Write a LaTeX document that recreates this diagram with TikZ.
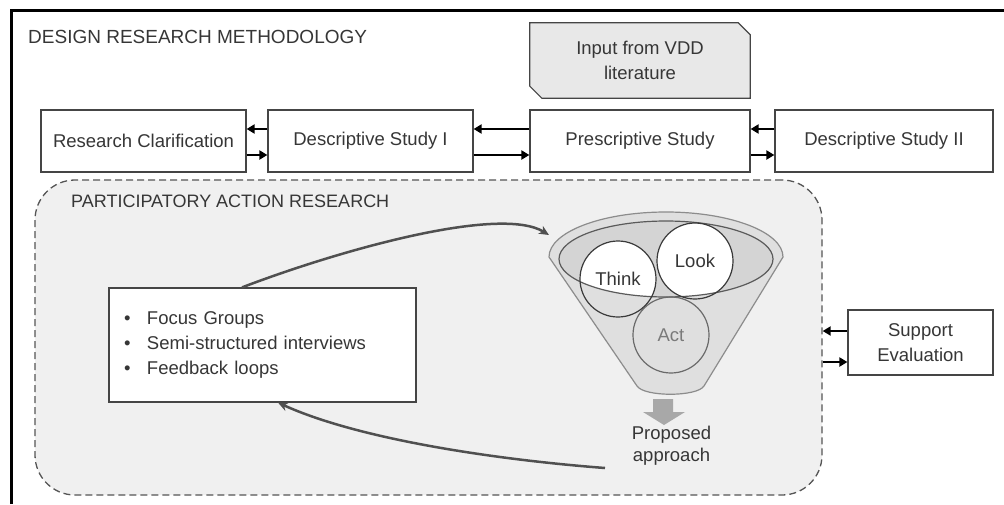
\documentclass[tikz,border=0pt]{standalone}
\usepackage{fontspec}
\setmainfont{Liberation Sans}
\usetikzlibrary{arrows.meta,backgrounds,calc}
\definecolor{txt}{HTML}{363636}
\definecolor{boxline}{HTML}{454545}
\definecolor{inputfill}{HTML}{E8E8E8}
\definecolor{parfill}{HTML}{F0F0F0}
\definecolor{dashgray}{HTML}{555555}
\definecolor{arrowgray}{HTML}{505050}
\definecolor{funnelbody}{HTML}{DFDFDF}
\definecolor{funnelline}{HTML}{8C8C8C}
\definecolor{innerfill}{HTML}{D4D4D4}
\definecolor{innerline}{HTML}{5A5A5A}
\definecolor{circline}{HTML}{3A3A3A}
\definecolor{actline}{HTML}{6A6A6A}
\definecolor{acttext}{HTML}{7A7A7A}
\definecolor{blockgray}{HTML}{A8A8A8}
\begin{document}
\begin{tikzpicture}[x=1pt,y=-1pt,
  every node/.style={text=txt, font=\fontsize{18.5}{25}\selectfont},
  box/.style={draw=boxline, fill=white, line width=1.2pt, inner sep=0pt, minimum height=62pt},
  sarr/.style={draw=black, line width=2.6pt, -{Triangle[length=8pt,width=9pt]}},
  carr/.style={draw=arrowgray, line width=2.5pt, -{Stealth[length=10pt,width=9pt]}},
  ring/.style={circle, draw=circline, line width=1.2pt, minimum size=76pt, inner sep=0pt}
]
\useasboundingbox (0,0) rectangle (1004,504);
% outer frame
\draw[line width=2.5pt, black] (11.5,504) -- (11.5,10.5) -- (1004,10.5);

% title
\node[anchor=base west, font=\fontsize{19}{25}\selectfont, inner sep=0pt] (title) at (28,43) {DESIGN RESEARCH METHODOLOGY};

% input box
\node[minimum width=220pt, minimum height=75pt, inner sep=0pt, align=center] (inp) at (640,60.5) {Input from VDD\\literature};
\begin{scope}[on background layer]
\draw[draw=boxline, fill=inputfill, line width=1.2pt]
  (inp.north west) -- ([xshift=-12pt]inp.north east) -- ([yshift=-12pt]inp.north east)
  -- (inp.south east) -- ([xshift=12pt]inp.south west) -- ([yshift=12pt]inp.south west) -- cycle;
\end{scope}

% top row
\node[box, minimum width=205pt] (rc)  at (143.5,141) {Research Clarification};
\node[box, minimum width=205pt] (ds1) at (370.5,141) {Descriptive Study I};
\node[box, minimum width=220pt] (ps)  at (640,141)   {Prescriptive Study};
\node[box, minimum width=218pt] (ds2) at (884,141)   {Descriptive Study II};

\draw[sarr] ([yshift=12pt]ds1.west) -- ([yshift=12pt]ds1.west -| rc.east);
\draw[sarr] ([yshift=-14pt]rc.east) -- ([yshift=-14pt]rc.east -| ds1.west);
\draw[sarr] ([yshift=12pt]ps.west) -- ([yshift=12pt]ps.west -| ds1.east);
\draw[sarr] ([yshift=-14pt]ds1.east) -- ([yshift=-14pt]ds1.east -| ps.west);
\draw[sarr] ([yshift=12pt]ds2.west) -- ([yshift=12pt]ds2.west -| ps.east);
\draw[sarr] ([yshift=-14pt]ps.east) -- ([yshift=-14pt]ps.east -| ds2.west);

% participatory action research region
\node[draw=dashgray, fill=parfill, dash pattern=on 7pt off 4pt, line width=1.3pt,
  rounded corners=40pt, minimum width=787pt, minimum height=315pt, inner sep=0pt] (par) at (428.5,337.5) {};
\node[anchor=base west, inner sep=0pt, font=\fontsize{18}{25}\selectfont] (parlbl) at (71,207) {PARTICIPATORY ACTION RESEARCH};

% support evaluation
\node[box, minimum width=145pt, minimum height=65pt, align=center] (se) at (920.5,342.5) {Support\\Evaluation};
\draw[sarr] ([yshift=11.5pt]se.west) -- ([yshift=11.5pt]se.west -| par.east);
\draw[sarr] ([yshift=-19.5pt]se.west -| par.east) -- ([yshift=-19.5pt]se.west);

% bullet box
\node[box, minimum width=307pt, minimum height=114pt, text width=283pt, inner xsep=12pt, align=left] (fb) at (262.5,345)
  {\makebox[26pt][l]{\,\textbullet}Focus Groups\\
   \makebox[26pt][l]{\,\textbullet}Semi-structured interviews\\
   \makebox[26pt][l]{\,\textbullet}Feedback loops};

% funnel
\filldraw[fill=funnelbody, draw=funnelline, line width=1.2pt]
  (549,257) arc[start angle=180, end angle=0, x radius=117pt, y radius=45pt]
  -- (704,386) .. controls (697,397) and (644,397) .. (637,386) -- cycle;
\fill[innerfill] (666,259) ellipse[x radius=107pt, y radius=38pt];
\begin{scope}
  \clip (666,259) ellipse[x radius=107pt, y radius=38pt];
  \fill[white] (618,279) circle[radius=38pt];
  \fill[white] (695,261) circle[radius=38pt];
\end{scope}
\draw[innerline, line width=1.2pt] (666,259) ellipse[x radius=107pt, y radius=38pt];
\node[ring] (think) at (618,279) {Think};
\node[ring] (look)  at (695,261) {Look};
\node[ring, draw=actline, text=acttext] (act) at (671,335) {Act};

% output arrow and label
\fill[blockgray] (653,399) -- (673,399) -- (673,412) -- (685,412) -- (664,425) -- (643,412) -- (653,412) -- cycle;
\node[align=center, inner sep=0pt, font=\fontsize{18.5}{22.5}\selectfont] (prop) at (671.5,445.5) {Proposed\\approach};

% curved connectors
\coordinate (funin) at (549,235);
\coordinate (funout) at (605,468);
\draw[carr] ([xshift=-20.5pt]fb.north) .. controls (340,250) and (500,205) .. (funin);
\draw[carr] (funout) .. controls (500,460) and (360,440) .. ([xshift=15.5pt]fb.south);
\end{tikzpicture}
\end{document}
